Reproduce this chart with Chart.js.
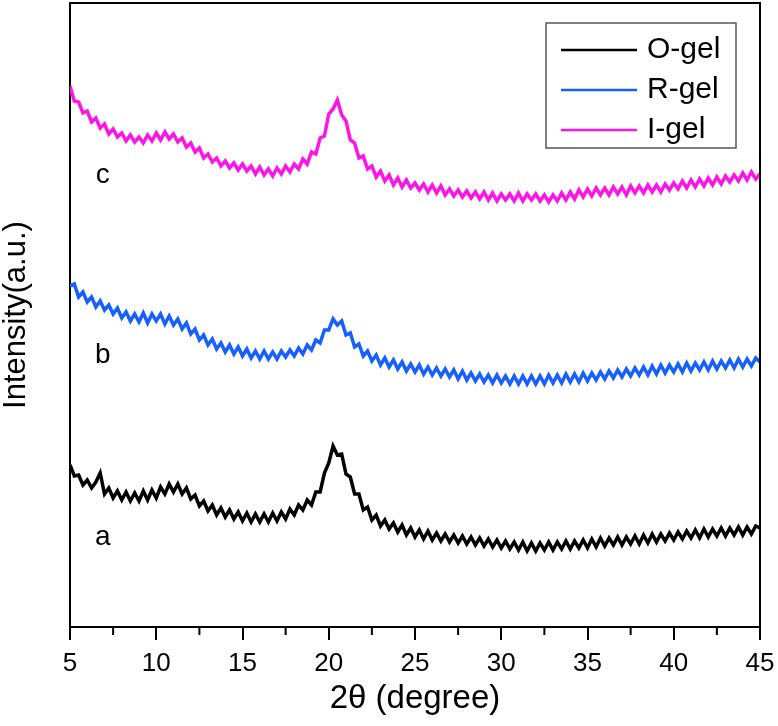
<!DOCTYPE html>
<html>
<head>
<meta charset="utf-8">
<script src="https://cdn.jsdelivr.net/npm/chart.js@4"></script>
<style>
  html, body { margin: 0; padding: 0; background: #fff; }
  #xrd { display: block; }
</style>
</head>
<body>
<canvas id="xrd" width="778" height="726"></canvas>
<script>
// 2θ from 5 to 45 in 0.25 steps
const angles = Array.from({ length: 161 }, (_, i) => 5 + i * 0.25);

const seriesNames = ['O-gel', 'R-gel', 'I-gel'];
const curveTags = ['a', 'b', 'c'];
const tagAngle = 6.9;
const tagLevels = [90, 272, 452];
const xTicks = [5, 10, 15, 20, 25, 30, 35, 40, 45];
const xMinorTicks = [7.5, 12.5, 17.5, 22.5, 27.5, 32.5, 37.5, 42.5];

// intensities (a.u., stacked offsets)
const oGel = [
  162,151,152,142, 147,139,145,154, 133,139,129,136, 127,135,126,134,
  126,136,127,137, 129,140,133,143, 135,143,133,139, 128,132,121,126,
  116,122,112,119, 110,117,108,115, 106,114,105,113, 105,113,105,114,
  106,115,108,118, 112,122,117,127, 122,135,135,154, 164,181,172,173,
  153,150,133,133, 117,120,107,112, 101,107,98,104, 95,102,92,99,
  90,97,88,96, 87,94,86,93, 85,92,84,91, 83,90,82,89,
  81,88,80,87, 79,86,78,85, 77,85,76,84, 76,84,77,85,
  77,85,78,86, 78,86,79,87, 79,88,80,89, 81,89,82,90,
  82,90,83,91, 83,92,84,93, 85,93,86,94, 87,95,88,96,
  89,97,89,98, 90,98,91,99, 91,99,92,100, 92,100,93,101,
  99
];

const rGel = [
  341,343,330,335, 325,330,320,326, 317,322,313,319, 309,315,306,313,
  305,314,304,313, 306,313,303,311, 302,308,298,304, 293,298,287,292,
  282,288,278,284, 275,282,273,280, 271,278,269,276, 268,276,268,275,
  268,276,270,277, 271,279,273,282, 277,287,284,297, 297,308,302,306,
  292,294,280,283, 271,276,266,272, 262,269,260,267, 258,265,256,263,
  255,262,253,260, 252,259,251,258, 250,257,248,256, 247,254,246,253,
  245,252,244,252, 244,251,243,251, 243,251,243,251, 243,251,243,252,
  244,252,244,253, 245,253,245,254, 246,254,247,255, 248,256,249,257,
  250,258,251,259, 252,260,252,261, 253,262,254,262, 255,263,255,264,
  256,264,257,265, 257,266,258,266, 259,267,259,268, 260,268,261,269,
  265
];

const iGel = [
  541,526,525,514, 516,505,509,499, 503,493,498,490, 494,486,492,485,
  490,484,492,486, 494,487,495,488, 493,485,489,480, 484,475,479,469,
  473,465,469,461, 466,459,464,457, 463,456,461,453, 460,452,458,451,
  459,453,461,455, 463,458,468,463, 475,473,489,491, 513,518,527,512,
  506,487,484,469, 471,458,461,450, 456,446,452,442, 449,440,447,439,
  444,437,443,435, 442,434,441,432, 438,431,437,430, 436,429,435,428,
  435,427,434,426, 433,427,433,426, 434,426,433,427, 433,426,432,425,
  432,426,434,427, 435,428,437,430, 438,431,439,432, 439,432,440,433,
  440,432,441,434, 441,434,442,435, 442,435,443,437, 444,438,446,439,
  447,440,448,441, 449,442,450,443, 451,445,452,446, 454,447,455,448,
  453
];

const colors = ['#000000', '#1560ff', '#ff14e8'];
const fontFam = '"Liberation Sans", Arial, sans-serif';

const toPts = arr => angles.map((a, i) => ({ x: a, y: arr[i] }));

// frame, minor ticks, curve tags and legend box
const extras = {
  id: 'extras',
  afterDraw(chart) {
    const { ctx, chartArea: ca, scales } = chart;
    const x = scales.x, y = scales.y;
    ctx.save();
    ctx.strokeStyle = '#000';
    ctx.lineWidth = 2;
    ctx.beginPath();
    ctx.moveTo(ca.left, ca.top);
    ctx.lineTo(ca.right, ca.top);
    ctx.lineTo(ca.right, ca.bottom);
    ctx.stroke();

    ctx.beginPath();
    xMinorTicks.forEach(v => {
      const px = x.getPixelForValue(v);
      ctx.moveTo(px, ca.bottom);
      ctx.lineTo(px, ca.bottom + 8);
    });
    ctx.stroke();

    ctx.fillStyle = '#000';
    ctx.font = '28px ' + fontFam;
    ctx.textAlign = 'center';
    ctx.textBaseline = 'middle';
    curveTags.forEach((t, i) => {
      ctx.fillText(t, x.getPixelForValue(tagAngle), y.getPixelForValue(tagLevels[i]));
    });

    // legend
    const bw = 190, bh = 125;
    const bx = ca.right - 24 - bw, by = ca.top + 20;
    ctx.fillStyle = '#fff';
    ctx.fillRect(bx, by, bw, bh);
    ctx.strokeStyle = '#555';
    ctx.lineWidth = 1.5;
    ctx.strokeRect(bx, by, bw, bh);
    ctx.font = '30px ' + fontFam;
    ctx.textAlign = 'left';
    chart.data.datasets.forEach((ds, i) => {
      const ry = by + 27 + i * 40;
      ctx.strokeStyle = ds.borderColor;
      ctx.lineWidth = 2.5;
      ctx.beginPath();
      ctx.moveTo(bx + 15, ry);
      ctx.lineTo(bx + 91, ry);
      ctx.stroke();
      ctx.fillStyle = '#000';
      ctx.fillText(ds.label, bx + 101, ry);
    });
    ctx.restore();
  }
};

new Chart(document.getElementById('xrd'), {
  type: 'line',
  data: {
    datasets: [oGel, rGel, iGel].map((arr, i) => ({
      label: seriesNames[i],
      data: toPts(arr),
      borderColor: colors[i],
      borderWidth: 3.5,
      pointRadius: 0,
      tension: 0,
      fill: false
    }))
  },
  options: {
    responsive: false,
    animation: false,
    layout: { padding: { top: 3, right: 18, left: 0, bottom: 0 } },
    plugins: { legend: { display: false }, tooltip: { enabled: false } },
    scales: {
      x: {
        type: 'linear',
        min: 5,
        max: 45,
        afterFit: s => { s.height = 99; s.paddingLeft = 0; s.paddingRight = 0; },
        afterBuildTicks: s => { s.ticks = xTicks.map(v => ({ value: v })); },
        ticks: { color: '#000', padding: 8, font: { size: 26, family: fontFam } },
        grid: { drawOnChartArea: false, drawTicks: true, tickLength: 13, color: '#000', lineWidth: 2 },
        border: { color: '#000', width: 2 },
        title: {
          display: true,
          text: '2θ (degree)',
          color: '#000',
          font: { size: 33, family: fontFam },
          padding: { top: 0, bottom: 7 }
        }
      },
      y: {
        min: 0,
        max: 624,
        afterFit: s => { s.width = 70; },
        ticks: { display: false },
        grid: { display: false },
        border: { color: '#000', width: 2 },
        title: {
          display: true,
          text: 'Intensity(a.u.)',
          color: '#000',
          font: { size: 31, family: fontFam, lineHeight: 1 },
          padding: { top: 1, bottom: 0 }
        }
      }
    }
  },
  plugins: [extras]
});
</script>
</body>
</html>
